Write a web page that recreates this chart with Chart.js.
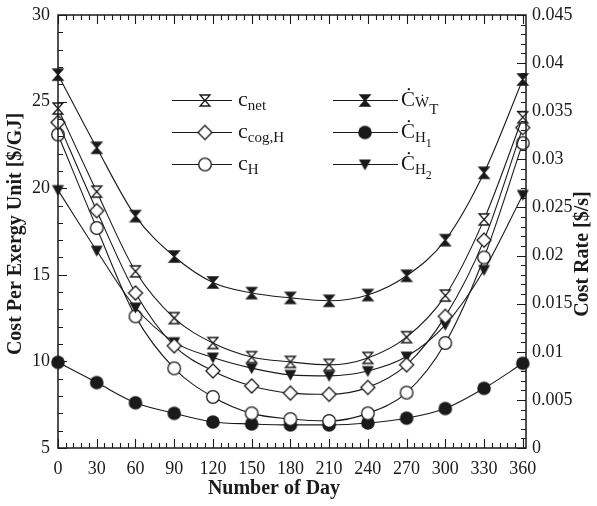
<!DOCTYPE html>
<html>
<head>
<meta charset="utf-8">
<script src="https://cdn.jsdelivr.net/npm/chart.js@4.4.1/dist/chart.umd.min.js"></script>
<style>
  html, body { margin: 0; padding: 0; background: #fff; }
  #wrap { width: 597px; height: 506px; }
</style>
</head>
<body>
<div id="wrap"><canvas id="c" width="597" height="506"></canvas></div>
<script>
// Day of year for each sample
const days = [0, 30, 60, 90, 120, 150, 180, 210, 240, 270, 300, 330, 360];

// Cost per exergy unit [$/GJ] (left axis)
const cNet  = [24.6, 19.8, 15.2, 12.5, 11.06, 10.25, 9.97, 9.8, 10.2, 11.4, 13.8, 18.2, 24.1];
const cCogH = [23.8, 18.7, 13.95, 10.9, 9.45, 8.58, 8.17, 8.1, 8.5, 9.8, 12.6, 17.0, 23.5];
const cH    = [23.1, 17.7, 12.6, 9.6, 7.95, 7.0, 6.67, 6.56, 7.0, 8.2, 11.06, 16.0, 22.6];

// Cost rates [$/s] (right axis)
const cWT = [0.0388, 0.0312, 0.0241, 0.0199, 0.0172, 0.0161, 0.0156, 0.0153, 0.0159, 0.0179, 0.0216, 0.0286, 0.0383];
const cH1 = [0.0089, 0.0068, 0.0047, 0.0036, 0.0027, 0.0025, 0.0024, 0.0024, 0.0026, 0.0031, 0.0041, 0.0062, 0.0088];
const cH2 = [0.0268, 0.0205, 0.0146, 0.0110, 0.0094, 0.0083, 0.0076, 0.0075, 0.0080, 0.0095, 0.0128, 0.0185, 0.0263];

// Axis tick settings
const xTicks = [0, 30, 60, 90, 120, 150, 180, 210, 240, 270, 300, 330, 360];
const leftTicks = [5, 10, 15, 20, 25, 30];
const rightTicks = [0, 0.005, 0.01, 0.015, 0.02, 0.025, 0.03, 0.035, 0.04, 0.045];

const INK = '#1a1a1a';
const SERIF = '"Liberation Serif", "Times New Roman", serif';

// ---- marker sprites ----
function sprite(draw, w, h) {
  const cv = document.createElement('canvas');
  cv.width = w; cv.height = h;
  const g = cv.getContext('2d');
  g.lineWidth = 1.3;
  g.strokeStyle = INK;
  g.fillStyle = INK;
  draw(g, w, h);
  return cv;
}
function hourglass(filled) {
  return sprite((g, w, h) => {
    const l = 2, r = w - 2, t = 2, b = h - 2, cx = w / 2, cy = h / 2;
    g.beginPath();
    g.moveTo(l, t); g.lineTo(r, t); g.lineTo(cx, cy); g.lineTo(r, b);
    g.lineTo(l, b); g.lineTo(cx, cy); g.closePath();
    g.fillStyle = filled ? INK : '#fff';
    g.fill(); g.stroke();
  }, 14, 15);
}
const mkNet = hourglass(false);
const mkWT = hourglass(true);
const mkDiamond = sprite((g, w, h) => {
  const cx = w / 2, cy = h / 2, r = 7;
  g.beginPath();
  g.moveTo(cx, cy - r); g.lineTo(cx + r, cy); g.lineTo(cx, cy + r); g.lineTo(cx - r, cy); g.closePath();
  g.fillStyle = '#fff'; g.fill(); g.stroke();
}, 18, 18);
const mkOpenCircle = sprite((g, w, h) => {
  g.beginPath(); g.arc(w / 2, h / 2, 6.3, 0, Math.PI * 2);
  g.fillStyle = '#fff'; g.fill(); g.stroke();
}, 16, 16);
const mkDot = sprite((g, w, h) => {
  g.beginPath(); g.arc(w / 2, h / 2, 6.8, 0, Math.PI * 2);
  g.fill();
}, 16, 16);
const mkTri = sprite((g, w, h) => {
  g.beginPath();
  g.moveTo(1.5, 2.5); g.lineTo(w - 1.5, 2.5); g.lineTo(w / 2, h - 1.5); g.closePath();
  g.fill();
}, 15, 15);

function series(data, axis, marker) {
  return {
    data: days.map((d, i) => ({ x: d, y: data[i] })),
    yAxisID: axis,
    borderColor: INK,
    borderWidth: 1.1,
    pointStyle: marker,
    pointRadius: 7,
    pointHoverRadius: 7,
    cubicInterpolationMode: 'monotone',
    fill: false,
    clip: false
  };
}

// ---- inward ticks, frame, titles and legend ----
const decorations = {
  id: 'decorations',
  afterDraw(chart) {
    const ctx = chart.ctx;
    const a = chart.chartArea;
    const sx = chart.scales.x, sl = chart.scales.y, sr = chart.scales.y1;
    ctx.save();
    ctx.strokeStyle = INK;
    ctx.lineWidth = 1.5;
    ctx.strokeRect(a.left, a.top, a.right - a.left, a.bottom - a.top);

    const MAJ = 9, MIN = 5;
    ctx.lineWidth = 1.1;
    ctx.beginPath();
    // bottom and top: major every 30 days, minor every 6
    for (let d = 0; d <= 360; d += 6) {
      const px = Math.round(sx.getPixelForValue(d)) + 0.5;
      const len = d % 30 === 0 ? MAJ : MIN;
      ctx.moveTo(px, a.bottom); ctx.lineTo(px, a.bottom - len);
      ctx.moveTo(px, a.top); ctx.lineTo(px, a.top + len);
    }
    // left: major every 5, minor every 1
    for (let v = 5; v <= 30; v += 1) {
      const py = Math.round(sl.getPixelForValue(v)) + 0.5;
      const len = v % 5 === 0 ? MAJ : MIN;
      ctx.moveTo(a.left, py); ctx.lineTo(a.left + len, py);
    }
    // right: major every 0.005, minor every 0.001
    for (let k = 0; k <= 45; k += 1) {
      const py = Math.round(sr.getPixelForValue(k / 1000)) + 0.5;
      const len = k % 5 === 0 ? MAJ : MIN;
      ctx.moveTo(a.right, py); ctx.lineTo(a.right - len, py);
    }
    ctx.stroke();

    // axis titles
    ctx.fillStyle = INK;
    ctx.font = 'bold 20px ' + SERIF;
    ctx.textAlign = 'center';
    ctx.textBaseline = 'middle';
    ctx.fillText('Number of Day', 274, 489);
    ctx.save();
    ctx.translate(16, 234); ctx.rotate(-Math.PI / 2);
    ctx.fillText('Cost Per Exergy Unit [$/GJ]', 0, 0);
    ctx.restore();
    ctx.save();
    ctx.translate(583, 254); ctx.rotate(-Math.PI / 2);
    ctx.fillText('Cost Rate [$/s]', 0, 0);
    ctx.restore();

    // legend
    const rich = (x, y, parts) => {
      ctx.textAlign = 'left';
      ctx.textBaseline = 'alphabetic';
      let cx = x;
      for (const p of parts) {
        ctx.font = p.s + 'px ' + SERIF;
        ctx.fillText(p.t, cx, y + p.dy);
        cx += ctx.measureText(p.t).width;
      }
    };
    const entry = (x0, x1, mx, y, img, tx, parts) => {
      ctx.lineWidth = 1.1;
      ctx.beginPath(); ctx.moveTo(x0, y + 0.5); ctx.lineTo(x1, y + 0.5); ctx.stroke();
      ctx.drawImage(img, mx - img.width / 2, y - img.height / 2 + 0.5);
      rich(tx, y + 6, parts);
    };
    entry(172, 232, 205, 100, mkNet, 238, [{ t: 'c', s: 22, dy: 0 }, { t: 'net', s: 15, dy: 4 }]);
    entry(172, 232, 205, 132, mkDiamond, 238, [{ t: 'c', s: 22, dy: 0 }, { t: 'cog,H', s: 15, dy: 4 }]);
    entry(172, 232, 205, 164, mkOpenCircle, 238, [{ t: 'c', s: 22, dy: 0 }, { t: 'H', s: 15, dy: 4 }]);
    entry(333, 398, 365, 100, mkWT, 401, [{ t: 'Ċ', s: 21, dy: 0 }, { t: 'Ẇ', s: 15, dy: 1 }, { t: 'T', s: 15, dy: 8 }]);
    entry(333, 398, 365, 132, mkDot, 401, [{ t: 'Ċ', s: 21, dy: 0 }, { t: 'H', s: 15, dy: 4 }, { t: '1', s: 12, dy: 9 }]);
    entry(333, 398, 365, 164, mkTri, 401, [{ t: 'Ċ', s: 21, dy: 0 }, { t: 'H', s: 15, dy: 4 }, { t: '2', s: 12, dy: 9 }]);
    ctx.restore();
  }
};

const tickFont = { family: SERIF, size: 18 };

new Chart(document.getElementById('c'), {
  type: 'line',
  data: {
    datasets: [
      series(cWT, 'y1', mkWT),
      series(cNet, 'y', mkNet),
      series(cCogH, 'y', mkDiamond),
      series(cH2, 'y1', mkTri),
      series(cH, 'y', mkOpenCircle),
      series(cH1, 'y1', mkDot)
    ]
  },
  options: {
    responsive: false,
    animation: false,
    events: [],
    layout: { padding: { top: 15, left: 0, right: 0, bottom: 0 } },
    plugins: { legend: { display: false }, tooltip: { enabled: false } },
    scales: {
      x: {
        type: 'linear', min: 0, max: 362.5,
        grid: { display: false }, border: { display: false },
        afterBuildTicks: s => { s.ticks = xTicks.map(v => ({ value: v })); },
        ticks: { color: INK, font: tickFont, padding: 2, maxRotation: 0, autoSkip: false },
        afterFit: s => { s.height = 58; }
      },
      y: {
        position: 'left', min: 5, max: 30,
        grid: { display: false }, border: { display: false },
        afterBuildTicks: s => { s.ticks = leftTicks.map(v => ({ value: v })); },
        ticks: { color: INK, font: tickFont, padding: 0 },
        afterFit: s => { s.width = 58; }
      },
      y1: {
        position: 'right', min: 0, max: 0.045,
        grid: { display: false }, border: { display: false },
        afterBuildTicks: s => { s.ticks = rightTicks.map(v => ({ value: v })); },
        ticks: {
          color: INK, font: tickFont, padding: -2,
          callback: v => String(parseFloat(Number(v).toFixed(3)))
        },
        afterFit: s => { s.width = 71; }
      }
    }
  },
  plugins: [decorations]
});
</script>
</body>
</html>
